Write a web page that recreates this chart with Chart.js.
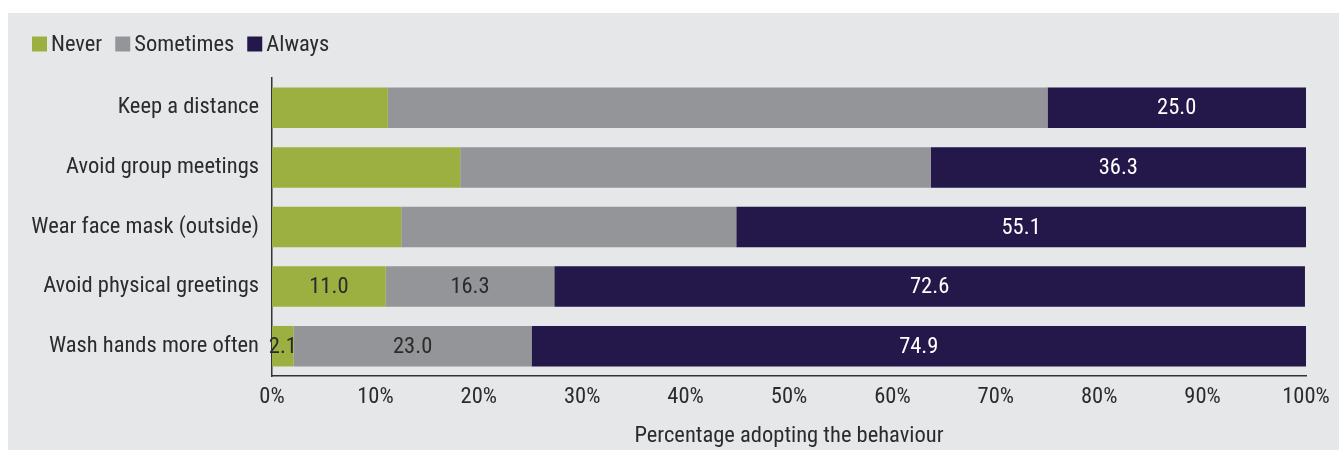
<!DOCTYPE html>
<html lang="en">
<head>
    <meta charset="UTF-8">
    <title>Percentage adopting the behaviour</title>
    <script src="https://cdn.jsdelivr.net/npm/chart.js@4.4.0/dist/chart.umd.min.js"></script>
    <style>
        html, body { margin: 0; padding: 0; background: #fff; }
        #wrap { width: 1339px; height: 450px; position: relative; }
    </style>
</head>
<body>
    <div id="wrap"><canvas id="chart"></canvas></div>

    <script>
        // data
        const categories = ['Keep a distance', 'Avoid group meetings', 'Wear face mask (outside)', 'Avoid physical greetings', 'Wash hands more often'];
        const never = [11.2, 18.2, 12.5, 11.0, 2.1];
        const sometimes = [63.8, 45.5, 32.4, 16.3, 23.0];
        const always = [25.0, 36.3, 55.1, 72.6, 74.9];
        // value labels only shown on some segments in the original
        const neverLabels = [null, null, null, '11.0', '2.1'];
        const sometimesLabels = [null, null, null, '16.3', '23.0'];
        const alwaysLabels = ['25.0', '36.3', '55.1', '72.6', '74.9'];
        const xTicks = [0, 10, 20, 30, 40, 50, 60, 70, 80, 90, 100];

        const FONT = "'Roboto Condensed', Roboto, sans-serif";
        const SIZE = 22.5;
        const TEXT = '#2b2b2b';

        const series = [
            { label: 'Never', data: never, color: '#9bb041', labels: neverLabels, text: TEXT },
            { label: 'Sometimes', data: sometimes, color: '#939598', labels: sometimesLabels, text: TEXT },
            { label: 'Always', data: always, color: '#24174a', labels: alwaysLabels, text: '#ffffff' }
        ];

        // grey panel behind the chart
        const panelPlugin = {
            id: 'panel',
            beforeDraw(chart) {
                const ctx = chart.ctx;
                ctx.save();
                ctx.fillStyle = '#e6e7e9';
                ctx.fillRect(8, 13, chart.width - 8, chart.height - 13);
                ctx.restore();
            }
        };

        // small square legend, top left
        const legendPlugin = {
            id: 'squareLegend',
            afterDraw(chart) {
                const ctx = chart.ctx;
                ctx.save();
                ctx.font = SIZE + 'px ' + FONT;
                ctx.textBaseline = 'middle';
                let x = 32;
                const y = 44;
                series.forEach(s => {
                    ctx.fillStyle = s.color;
                    ctx.fillRect(x, y - 7.5, 15, 15);
                    ctx.fillStyle = TEXT;
                    ctx.fillText(s.label, x + 19, y + 1);
                    x += 19 + ctx.measureText(s.label).width + 13;
                });
                ctx.restore();
            }
        };

        // value labels centred in each segment
        const valuePlugin = {
            id: 'values',
            afterDatasetsDraw(chart) {
                const ctx = chart.ctx;
                ctx.save();
                ctx.font = SIZE + 'px ' + FONT;
                ctx.textAlign = 'center';
                ctx.textBaseline = 'middle';
                chart.data.datasets.forEach((ds, i) => {
                    const meta = chart.getDatasetMeta(i);
                    meta.data.forEach((bar, j) => {
                        const txt = series[i].labels[j];
                        if (!txt) return;
                        ctx.fillStyle = series[i].text;
                        ctx.fillText(txt, (bar.x + bar.base) / 2, bar.y + 1);
                    });
                });
                ctx.restore();
            }
        };

        new Chart(document.getElementById('chart'), {
            type: 'bar',
            data: {
                labels: categories,
                datasets: series.map(s => ({
                    label: s.label,
                    data: s.data,
                    backgroundColor: s.color,
                    borderWidth: 0,
                    barPercentage: 0.68,
                    categoryPercentage: 1
                }))
            },
            options: {
                indexAxis: 'y',
                responsive: true,
                maintainAspectRatio: false,
                animation: false,
                layout: { padding: { top: 78, right: 33, left: 0, bottom: 0 } },
                plugins: {
                    legend: { display: false },
                    tooltip: { enabled: false }
                },
                scales: {
                    x: {
                        stacked: true,
                        min: 0,
                        max: 100,
                        afterBuildTicks(scale) {
                            scale.ticks = xTicks.map(v => ({ value: v }));
                        },
                        afterFit(scale) { scale.height = 74; },
                        grid: { display: false, drawTicks: false },
                        border: { display: true, color: '#333333', width: 1.5 },
                        ticks: {
                            padding: 8,
                            color: TEXT,
                            font: { family: FONT, size: SIZE },
                            maxRotation: 0,
                            callback: v => v + '%'
                        },
                        title: {
                            display: true,
                            text: 'Percentage adopting the behaviour',
                            color: TEXT,
                            font: { family: FONT, size: SIZE },
                            padding: { top: 5, bottom: 0 }
                        }
                    },
                    y: {
                        stacked: true,
                        afterFit(scale) { scale.width = 272; },
                        grid: { display: false, drawTicks: false },
                        border: { display: true, color: '#333333', width: 1.5 },
                        ticks: {
                            padding: 13,
                            color: TEXT,
                            font: { family: FONT, size: SIZE }
                        }
                    }
                }
            },
            plugins: [panelPlugin, legendPlugin, valuePlugin]
        });
    </script>
</body>
</html>
